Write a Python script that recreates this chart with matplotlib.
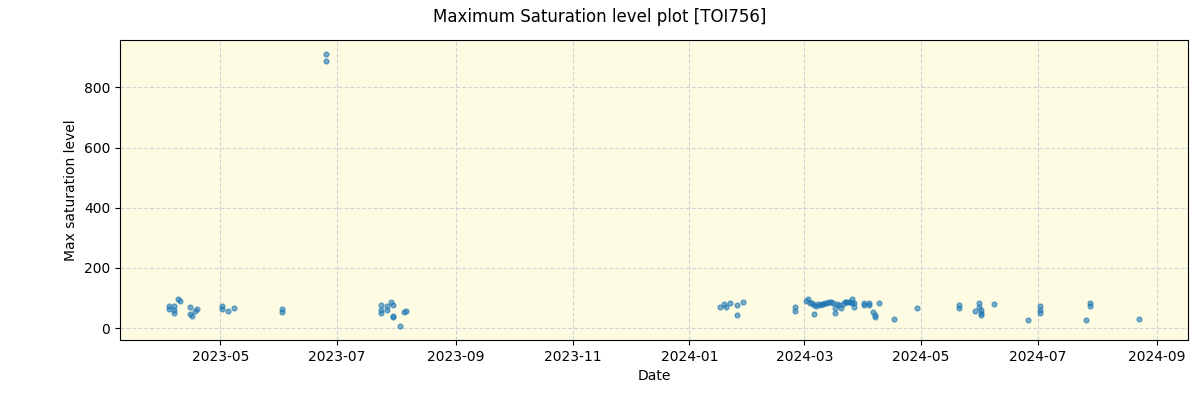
import numpy as np
import pandas as pd
import matplotlib
matplotlib.use("Agg")
import matplotlib.pyplot as plt
import matplotlib.dates as mdates

dates = [
    "2023-04-04", "2023-04-04", "2023-04-07", "2023-04-07", "2023-04-07",
    "2023-04-09", "2023-04-10", "2023-04-15", "2023-04-15", "2023-04-16",
    "2023-04-18", "2023-04-19", "2023-05-02", "2023-05-02", "2023-05-05",
    "2023-05-08", "2023-06-02", "2023-06-02", "2023-06-25", "2023-06-25",
    "2023-07-24", "2023-07-24", "2023-07-24", "2023-07-27", "2023-07-27",
    "2023-07-29", "2023-07-30", "2023-07-30", "2023-07-30", "2023-08-03",
    "2023-08-05", "2023-08-06",
    "2024-01-17", "2024-01-19", "2024-01-20", "2024-01-22", "2024-01-26",
    "2024-01-26", "2024-01-29", "2024-02-25", "2024-02-25",
    "2024-03-02", "2024-03-03", "2024-03-04", "2024-03-05", "2024-03-06",
    "2024-03-06", "2024-03-07", "2024-03-08", "2024-03-09", "2024-03-10",
    "2024-03-11", "2024-03-12", "2024-03-13", "2024-03-14", "2024-03-15",
    "2024-03-16", "2024-03-17", "2024-03-17", "2024-03-18", "2024-03-19",
    "2024-03-20", "2024-03-21", "2024-03-22", "2024-03-23", "2024-03-24",
    "2024-03-25", "2024-03-26", "2024-03-26", "2024-03-27", "2024-03-27",
    "2024-04-01", "2024-04-01", "2024-04-04", "2024-04-04",
    "2024-04-06", "2024-04-07", "2024-04-07", "2024-04-09",
    "2024-04-17", "2024-04-29", "2024-05-21", "2024-05-21", "2024-05-29",
    "2024-05-31", "2024-05-31", "2024-06-01", "2024-06-01", "2024-06-01",
    "2024-06-08", "2024-06-26", "2024-07-02", "2024-07-02", "2024-07-02",
    "2024-07-26", "2024-07-28", "2024-07-28", "2024-08-23",
]
max_sat = [
    73, 64, 73, 62, 52,
    96, 91, 71, 46, 41,
    58, 63, 73, 64, 57,
    68, 64, 53, 912, 886,
    77, 60, 49, 73, 62,
    86, 77, 40, 36, 6,
    54, 56,
    71, 79, 69, 84, 78,
    43, 88, 71, 58,
    91, 97, 85, 82, 77,
    47, 74, 80, 78, 80,
    80, 82, 85, 88, 86,
    85, 66, 52, 80, 77,
    66, 80, 88, 88, 86,
    88, 82, 96, 71, 84,
    84, 77, 84, 77,
    54, 43, 36, 82,
    30, 68, 77, 66, 58,
    82, 71, 62, 52, 43,
    79, 27, 73, 62, 49,
    27, 82, 74, 32,
]

x = pd.to_datetime(dates)
y = np.array(max_sat)

fig, ax = plt.subplots(figsize=(12, 4), dpi=100)
fig.subplots_adjust(left=0.1, right=0.99, top=0.9, bottom=0.15)
ax.set_facecolor("#fdfce3")
ax.scatter(x, y, s=12, color="tab:blue", alpha=0.6, zorder=3)
ax.grid(True, linestyle="--", color="lightgray", zorder=0)
ax.set_axisbelow(True)

ax.xaxis.set_major_locator(mdates.MonthLocator(bymonth=[1, 3, 5, 7, 9, 11]))
ax.xaxis.set_major_formatter(mdates.DateFormatter("%Y-%m"))

ax.set_xlabel("Date")
ax.set_ylabel("Max saturation level")
fig.suptitle("Maximum Saturation level plot [TOI756]")

fig.savefig("out.png")
